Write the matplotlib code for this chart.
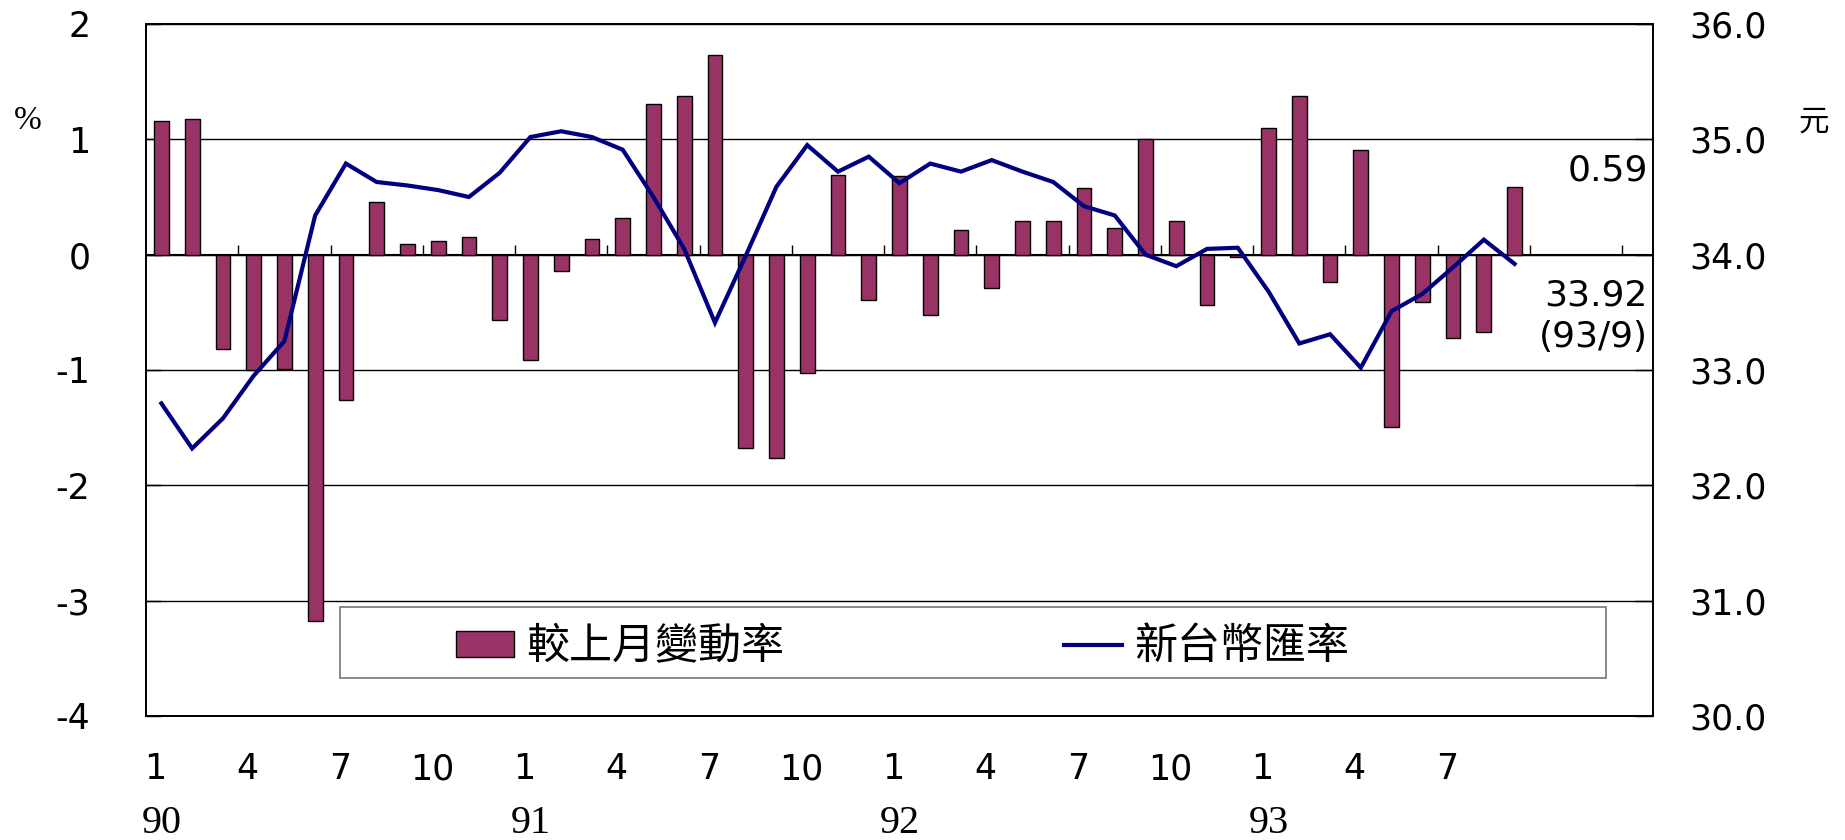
import numpy as np
import matplotlib
matplotlib.use("Agg")
import matplotlib.pyplot as plt
import matplotlib.transforms as mtransforms
from matplotlib.patches import Rectangle, Patch
from matplotlib.lines import Line2D

plt.rcParams['axes.unicode_minus'] = False

# ---------------- data ----------------
# monthly change of NT$ exchange rate (%) 90/1 .. 93/9
change_pct = [1.16, 1.18, -0.82, -1.00, -0.99, -3.18, -1.26, 0.46, 0.09, 0.12, 0.15, -0.57,
              -0.91, -0.14, 0.14, 0.32, 1.31, 1.38, 1.73, -1.68, -1.76, -1.03, 0.69, -0.39,
              0.68, -0.52, 0.21, -0.29, 0.29, 0.29, 0.58, 0.23, 1.00, 0.29, -0.44, -0.02,
              1.10, 1.38, -0.24, 0.91, -1.49, -0.41, -0.72, -0.67, 0.59]
# NT$ per US$
exchange_rate = [32.71, 32.32, 32.58, 32.95, 33.25, 34.34, 34.79, 34.63, 34.60, 34.56, 34.50, 34.71,
                 35.02, 35.07, 35.02, 34.91, 34.50, 34.05, 33.41, 33.99, 34.59, 34.95, 34.72, 34.85,
                 34.62, 34.79, 34.72, 34.82, 34.72, 34.63, 34.42, 34.34, 34.00, 33.90, 34.05, 34.06,
                 33.68, 33.23, 33.31, 33.02, 33.51, 33.66, 33.89, 34.13, 33.92]
n_slots = 49  # category slots on the axis (90/1 .. 94/1)
month_tick_labels = ['1', '4', '7', '10', '1', '4', '7', '10', '1', '4', '7', '10', '1', '4', '7']
year_labels = ['90', '91', '92', '93']
left_ticks = [-4, -3, -2, -1, 0, 1, 2]
right_ticks = [30.0, 31.0, 32.0, 33.0, 34.0, 35.0, 36.0]
series_names = ['較上月變動率', '新台幣匯率']
last_change_label = '0.59'
last_rate_label = '33.92'
last_period_label = '(93/9)'

bar_color = '#993366'
line_color = '#000080'
num_font = 'DejaVu Sans'
cjk_font = ['Noto Sans CJK TC', 'DejaVu Sans']

# ---------------- figure ----------------
fig = plt.figure(figsize=(18.45, 8.4), dpi=100)
ax = fig.add_axes([0.07913, 0.14762, 0.81680, 0.82381])
ax2 = ax.twinx()

x = np.arange(len(change_pct))
ax.bar(x, change_pct, width=0.48, color=bar_color, edgecolor='black', linewidth=1.0, zorder=2)
ax2.plot(x, exchange_rate, color=line_color, linewidth=3.0, solid_joinstyle='miter', zorder=3)

ax.set_xlim(-0.5, n_slots - 0.5)
ax.set_ylim(-4, 2)
ax2.set_ylim(30, 36)

# left axis
ax.set_yticks(left_ticks)
ax.set_yticklabels([str(v) for v in left_ticks], family=num_font, fontsize=25)
ax.tick_params(axis='y', direction='in', length=11, width=1, pad=40)
ax.set_axisbelow(True)
ax.grid(axis='y', color='black', linewidth=1.0)

# right axis
ax2.set_yticks(right_ticks)
ax2.set_yticklabels([f"{v:.1f}" for v in right_ticks], family=num_font, fontsize=25)
ax2.tick_params(axis='y', direction='in', length=13, width=1, pad=26)

# month labels under the plot
month_pos = np.arange(0, len(month_tick_labels) * 3, 3)
ax.set_xticks(month_pos)
ax.set_xticklabels(month_tick_labels, family=num_font, fontsize=25)
ax.tick_params(axis='x', length=0, pad=26)
shift = mtransforms.ScaledTranslation(-6 / 100, 0, fig.dpi_scale_trans)
for lbl in ax.get_xticklabels():
    lbl.set_transform(lbl.get_transform() + shift)

# year labels
trans = mtransforms.blended_transform_factory(ax.transData, ax.transAxes)
for i, yl in enumerate(year_labels):
    ax.text(i * 12, -0.156, yl, transform=trans, ha='center', va='center',
            family='Liberation Serif', fontsize=29)

# category axis crossing at zero with tick marks between every 3 months
sec = ax.secondary_xaxis(0, transform=ax.transData)
sec.set_xticks(np.arange(2.5, n_slots - 1, 3))
sec.tick_params(axis='x', direction='in', length=7, width=1, labelbottom=False)
sec.spines['bottom'].set_linewidth(1.5)
sec.spines['bottom'].set_color('black')

for a in (ax, ax2):
    for s in a.spines.values():
        s.set_color('black')
        s.set_linewidth(1.3)

# annotations
ax.text(0.9967, 0.789, last_change_label, transform=ax.transAxes, ha='right', va='center',
        family=num_font, fontsize=26)
ax.text(0.9967, 0.608, last_rate_label, transform=ax.transAxes, ha='right', va='center',
        family=num_font, fontsize=26)
ax.text(0.9967, 0.548, last_period_label, transform=ax.transAxes, ha='right', va='center',
        family=num_font, fontsize=26)

# unit labels
fig.text(28 / 1845, 1 - 121 / 840, '%', family='Liberation Serif', fontsize=24,
         ha='center', va='center')
fig.text(1814 / 1845, 1 - 122 / 840, '元', family=cjk_font, fontsize=22,
         ha='center', va='center')

# legend
ax2.add_patch(Rectangle((0.129, 0.055), 0.84, 0.1025, transform=ax2.transAxes,
                        facecolor='white', edgecolor='#808080', linewidth=1.3, zorder=5))
handles = [Patch(facecolor=bar_color, edgecolor='black', linewidth=1.0),
           Line2D([], [], color=line_color, linewidth=3.0)]
leg = ax2.legend(handles, series_names, loc='center left', bbox_to_anchor=(0.2057, 0.0997),
                 ncol=2, frameon=False, borderpad=0, borderaxespad=0,
                 handlelength=1.35, handleheight=0.55, handletextpad=0.28, columnspacing=6.5,
                 prop={'family': cjk_font, 'size': 31})
leg.set_zorder(6)

fig.savefig('out.png', dpi=100)
